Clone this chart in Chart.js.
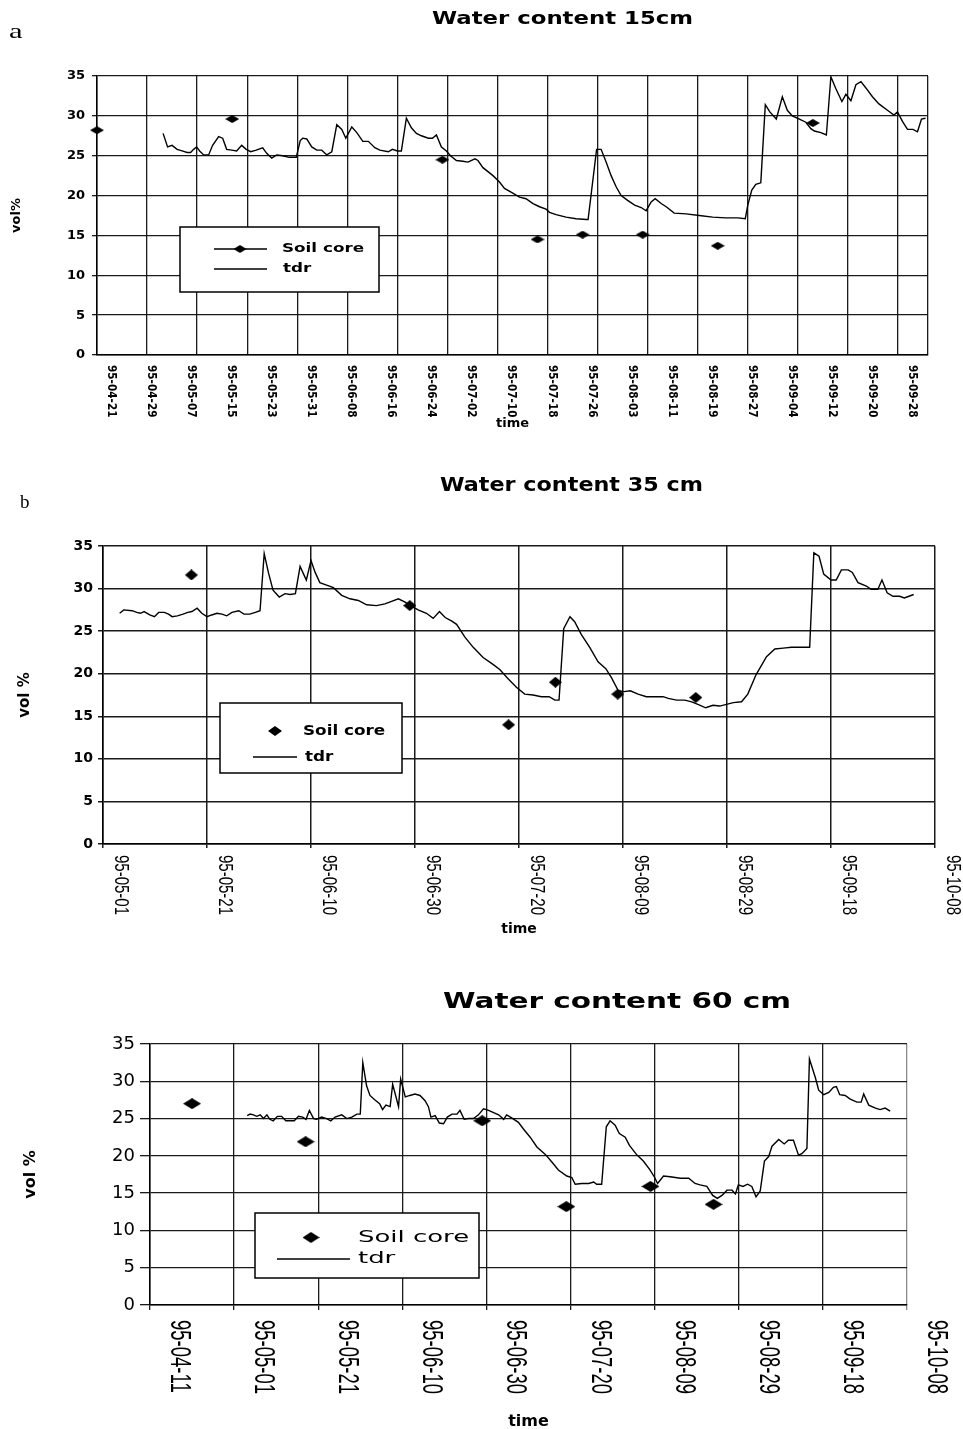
<!DOCTYPE html>
<html>
<head>
<meta charset="utf-8">
<script src="https://cdn.jsdelivr.net/npm/chart.js@4.4.1/dist/chart.umd.min.js"></script>
<style>
  html, body { margin: 0; padding: 0; background: #fff; }
  body { width: 963px; height: 1429px; position: relative; overflow: hidden; }
  canvas { position: absolute; left: 0; }
  .txt { position: absolute; white-space: nowrap; color: #000; line-height: 1; transform-origin: 0 50%; }
  .title { font-family: "DejaVu Sans", sans-serif; font-weight: bold; }
  .tag { font-family: "Liberation Serif", serif; }
</style>
</head>
<body>
<canvas id="chartA" width="963" height="440" style="top:0px"></canvas>
<canvas id="chartB" width="963" height="480" style="top:460px"></canvas>
<canvas id="chartC" width="963" height="449" style="top:980px"></canvas>

<div class="txt tag" id="tagA">a</div>
<div class="txt tag" id="tagB">b</div>
<div class="txt title" id="titleA">Water content 15cm</div>
<div class="txt title" id="titleB">Water content 35 cm</div>
<div class="txt title" id="titleC">Water content 60 cm</div>

<script>
// x values are days of year 1995 (Jan 1 = 1), y values are vol%

// panel a, 15 cm
const aTickLabels = ['95-04-21', '95-04-29', '95-05-07', '95-05-15', '95-05-23', '95-05-31', '95-06-08',
  '95-06-16', '95-06-24', '95-07-02', '95-07-10', '95-07-18', '95-07-26', '95-08-03', '95-08-11',
  '95-08-19', '95-08-27', '95-09-04', '95-09-12', '95-09-20', '95-09-28'];
const aCoreDay = [111, 138, 180, 199, 208, 220, 235, 254];
const aCoreVol = [28.2, 29.6, 24.5, 14.5, 15.1, 15.1, 13.7, 29.1];
const aTdrDay = [124.2, 125.1, 126.0, 127.0, 128.0, 129.0, 129.7, 130.3, 130.9, 131.5, 132.3, 133.3, 134.1,
  135.3, 136.1, 136.9, 137.9, 138.9, 139.9, 140.8, 141.7, 142.8, 144.1, 144.9, 145.9, 146.9, 148.1, 149.4,
  150.8, 151.6, 152.1, 152.9, 153.9, 154.9, 155.9, 156.9, 157.9, 158.9, 159.9, 160.7, 161.9, 162.9, 164.1,
  165.2, 166.5, 167.5, 169.2, 170.0, 171.0, 171.8, 172.8, 173.8, 174.8, 175.8, 177.2, 178.0, 178.8, 179.8,
  180.8, 181.6, 182.8, 184.1, 185.1, 186.5, 187.1, 188.1, 190.1, 191.4, 192.4, 193.8, 195.4, 196.7, 198.1,
  199.4, 200.7, 201.4, 202.7, 204.7, 206.7, 208.8, 209.1, 210.8, 211.7, 212.7, 213.7, 214.7, 215.7, 217.0,
  218.4, 219.7, 220.7, 221.7, 222.5, 223.7, 224.7, 226.3, 228.7, 231.3, 234.0, 236.6, 239.0, 240.5, 241.0,
  241.8, 242.6, 243.6, 244.5, 245.4, 246.7, 247.9, 248.9, 249.9, 251.3, 252.6, 253.6, 254.3, 255.6, 256.7,
  257.6, 258.6, 259.8, 260.6, 261.6, 262.6, 263.6, 264.6, 265.9, 267.2, 268.9, 270.2, 270.9, 271.9, 272.9,
  274.0, 274.9, 275.7, 276.5];
const aTdrVol = [27.8, 26.1, 26.3, 25.8, 25.6, 25.4, 25.4, 25.8, 26.1, 25.6, 25.1, 25.1, 26.3,
  27.4, 27.2, 25.8, 25.7, 25.6, 26.3, 25.8, 25.5, 25.7, 26.0, 25.3, 24.7, 25.1, 25.0, 24.8,
  24.8, 26.9, 27.2, 27.1, 26.1, 25.7, 25.7, 25.1, 25.5, 28.9, 28.3, 27.2, 28.6, 27.9, 26.8,
  26.8, 26.0, 25.7, 25.5, 25.8, 25.6, 25.6, 29.7, 28.5, 27.8, 27.5, 27.2, 27.2, 27.6, 26.1,
  25.6, 25.0, 24.4, 24.3, 24.2, 24.6, 24.4, 23.5, 22.5, 21.7, 20.9, 20.4, 19.8, 19.6, 19.0,
  18.6, 18.3, 17.9, 17.6, 17.3, 17.1, 17.0, 17.0, 25.8, 25.8, 24.2, 22.5, 21.1, 20.0, 19.4,
  18.8, 18.5, 18.1, 19.2, 19.6, 19.0, 18.6, 17.8, 17.7, 17.5, 17.3, 17.2, 17.2, 17.1, 18.8,
  20.7, 21.4, 21.6, 31.4, 30.5, 29.6, 32.4, 30.7, 30.0, 29.6, 29.2, 28.4, 28.1, 27.9, 27.6,
  34.9, 33.4, 31.8, 32.7, 31.9, 33.9, 34.3, 33.5, 32.4, 31.5, 30.7, 30.1, 30.5, 29.3, 28.3,
  28.3, 28.0, 29.6, 29.7];

// panel b, 35 cm
const bTickLabels = ['95-05-01', '95-05-21', '95-06-10', '95-06-30', '95-07-20', '95-08-09', '95-08-29',
  '95-09-18', '95-10-08'];
const bCoreDay = [138, 180, 199, 208, 220, 235];
const bCoreVol = [31.6, 28.0, 14.0, 19.0, 17.6, 17.2];
const bTdrDay = [124.2, 125.0, 126.6, 127.5, 128.2, 128.9, 130.0, 130.9, 131.7, 132.8, 133.6, 134.3, 135.3,
  136.4, 137.3, 138.1, 139.1, 140.0, 141.0, 141.9, 142.9, 143.9, 144.8, 145.8, 147.1, 148.1, 149.2, 150.3,
  151.2, 152.0, 152.8, 153.7, 154.9, 156.0, 157.0, 158.0, 158.9, 160.1, 161.0, 161.8, 162.7, 164.0, 165.3,
  166.9, 168.5, 170.1, 171.7, 173.6, 175.2, 176.5, 177.8, 179.1, 180.4, 181.6, 183.2, 184.5, 185.7, 186.8,
  188.0, 189.0, 190.6, 192.2, 194.1, 196.0, 197.3, 198.9, 200.5, 202.1, 203.7, 205.3, 206.8, 207.9, 208.7,
  209.6, 210.8, 211.7, 213.0, 214.6, 216.2, 217.7, 218.8, 220.1, 221.2, 222.4, 223.9, 225.5, 227.1, 228.7,
  229.7, 231.3, 232.9, 234.2, 235.4, 236.9, 238.3, 239.6, 240.9, 242.2, 243.8, 245.0, 246.6, 248.6, 250.2,
  251.8, 253.4, 255.0, 256.9, 257.7, 258.7, 259.6, 261.0, 262.0, 263.0, 264.3, 265.1, 266.2, 267.8, 268.7,
  270.0, 270.8, 271.8, 272.9, 274.2, 275.1, 276.0, 276.9];
const bTdrVol = [27.1, 27.5, 27.4, 27.2, 27.1, 27.3, 26.9, 26.7, 27.2, 27.2, 27.0, 26.7, 26.8,
  27.0, 27.2, 27.3, 27.7, 27.1, 26.7, 26.9, 27.1, 27.0, 26.8, 27.2, 27.4, 27.0, 27.0, 27.2,
  27.4, 34.1, 31.9, 29.8, 29.0, 29.4, 29.3, 29.4, 32.6, 31.0, 33.3, 31.9, 30.7, 30.4, 30.1,
  29.2, 28.8, 28.6, 28.1, 28.0, 28.2, 28.5, 28.8, 28.4, 27.9, 27.5, 27.1, 26.5, 27.3, 26.6,
  26.2, 25.8, 24.3, 23.1, 21.9, 21.1, 20.5, 19.4, 18.4, 17.6, 17.5, 17.3, 17.3, 16.9, 16.9,
  25.3, 26.7, 26.1, 24.6, 23.1, 21.4, 20.6, 19.5, 18.0, 17.9, 18.0, 17.6, 17.3, 17.3, 17.3,
  17.1, 16.9, 16.9, 16.7, 16.4, 16.0, 16.3, 16.2, 16.4, 16.6, 16.7, 17.6, 19.9, 22.0, 22.9,
  23.0, 23.1, 23.1, 23.1, 34.2, 33.8, 31.7, 31.0, 31.0, 32.2, 32.2, 31.9, 30.7, 30.3, 29.9,
  29.9, 31.0, 29.5, 29.1, 29.1, 28.9, 29.1, 29.3];

// panel c, 60 cm
const cTickLabels = ['95-04-11', '95-05-01', '95-05-21', '95-06-10', '95-06-30', '95-07-20', '95-08-09',
  '95-08-29', '95-09-18', '95-10-08'];
const cCoreDay = [111, 138, 180, 200, 220, 235];
const cCoreVol = [27.0, 21.9, 24.7, 13.2, 15.9, 13.5];
const cTdrDay = [124.1, 124.8, 125.6, 126.4, 127.2, 128.0, 128.8, 129.5, 130.3, 131.3, 132.3, 133.3, 135.3,
  136.3, 137.3, 138.1, 138.9, 139.9, 140.6, 141.8, 143.0, 144.0, 145.0, 146.6, 147.8, 149.0, 150.2, 151.0,
  151.6, 152.5, 153.3, 154.5, 155.6, 156.3, 157.1, 158.1, 158.7, 159.5, 160.1, 160.6, 161.7, 162.8, 164.0,
  165.2, 166.4, 167.2, 167.8, 168.8, 169.8, 170.8, 171.7, 172.8, 174.0, 174.7, 175.7, 176.7, 177.9, 179.1,
  180.3, 181.5, 182.7, 183.9, 185.1, 185.8, 187.0, 188.6, 189.8, 191.4, 193.0, 195.0, 196.5, 198.1, 200.1,
  201.3, 202.1, 203.7, 205.3, 206.5, 207.2, 208.4, 209.5, 210.4, 211.6, 212.6, 214.0, 215.0, 216.8, 218.3,
  219.8, 220.9, 221.7, 223.1, 224.7, 227.1, 229.1, 230.6, 231.8, 233.4, 234.8, 235.9, 237.0, 238.2, 239.4,
  240.2, 240.9, 242.0, 243.1, 244.1, 245.1, 246.1, 247.1, 248.1, 248.9, 250.5, 251.8, 252.8, 254.0, 255.2,
  256.0, 257.2, 257.8, 259.2, 260.0, 261.2, 262.4, 263.5, 264.2, 265.0, 266.3, 267.5, 269.1, 270.1, 270.7,
  271.9, 273.5, 274.6, 275.8, 277.0];
const cTdrVol = [25.4, 25.6, 25.5, 25.3, 25.5, 25.0, 25.5, 24.9, 24.7, 25.3, 25.3, 24.7, 24.7,
  25.3, 25.2, 24.9, 26.1, 25.0, 24.9, 25.2, 25.0, 24.7, 25.2, 25.5, 25.0, 25.2, 25.6, 25.6,
  32.5, 29.4, 28.1, 27.5, 27.0, 26.2, 26.8, 26.6, 29.6, 27.9, 26.6, 30.3, 27.9, 28.1, 28.3,
  28.1, 27.4, 26.6, 25.2, 25.4, 24.4, 24.3, 25.2, 25.6, 25.6, 26.1, 24.9, 25.0, 25.0, 25.5,
  26.3, 26.1, 25.8, 25.5, 24.9, 25.5, 25.1, 24.5, 23.6, 22.5, 21.2, 20.2, 19.2, 18.1, 17.3,
  17.1, 16.2, 16.3, 16.3, 16.5, 16.2, 16.2, 23.9, 24.7, 24.1, 23.0, 22.5, 21.4, 20.1, 19.3,
  18.2, 17.2, 16.3, 17.3, 17.2, 17.0, 17.0, 16.3, 16.1, 15.9, 14.7, 14.3, 14.7, 15.4, 15.4,
  14.9, 16.1, 15.9, 16.2, 15.9, 14.5, 15.3, 19.3, 19.9, 21.3, 22.2, 21.6, 22.1, 22.1, 20.1,
  20.3, 21.0, 33.0, 30.5, 28.8, 28.2, 28.5, 29.2, 29.3, 28.2, 28.1, 27.6, 27.2, 27.2, 28.3,
  26.8, 26.4, 26.2, 26.4, 26.0];

const monthStart = [0, 31, 59, 90, 120, 151, 181, 212, 243, 273, 304, 334];
function dayOf(label) {
  const parts = label.split('-').map(Number);
  return monthStart[parts[1] - 1] + parts[2];
}
const pts = (xs, ys) => xs.map((x, i) => ({ x: x, y: ys[i] }));

// wide black diamond used as the soil core marker
function diamond(w, h) {
  const c = document.createElement('canvas');
  c.width = w; c.height = h;
  const g = c.getContext('2d');
  g.fillStyle = '#000';
  g.beginPath();
  g.moveTo(w / 2, 0); g.lineTo(w, h / 2); g.lineTo(w / 2, h); g.lineTo(0, h / 2);
  g.closePath();
  g.fill();
  return c;
}

// date labels, rotated to read downward like the original
const xLabelPlugin = {
  id: 'xLabels',
  afterDraw(chart, args, o) {
    const ctx = chart.ctx;
    const x = chart.scales.x;
    ctx.save();
    ctx.fillStyle = '#000';
    ctx.font = o.font;
    ctx.textAlign = 'left';
    ctx.textBaseline = 'middle';
    o.labels.forEach(lbl => {
      ctx.save();
      ctx.translate(x.getPixelForValue(dayOf(lbl)) + o.offset, chart.chartArea.bottom + o.gap);
      ctx.rotate(Math.PI / 2);
      ctx.scale(1, o.stretch);
      ctx.fillText(lbl, 0, 0);
      ctx.restore();
    });
    ctx.restore();
  }
};

// boxed legend sitting inside the plot
const boxLegendPlugin = {
  id: 'boxLegend',
  afterDatasetsDraw(chart, args, o) {
    const ctx = chart.ctx;
    const sets = chart.data.datasets;
    ctx.save();
    ctx.fillStyle = '#fff';
    ctx.fillRect(o.x, o.y, o.w, o.h);
    ctx.strokeStyle = '#000';
    ctx.lineWidth = 1.5;
    ctx.strokeRect(o.x, o.y, o.w, o.h);
    ctx.lineWidth = 1.4;
    if (o.coreLine) {
      ctx.beginPath(); ctx.moveTo(o.lineX0, o.row1); ctx.lineTo(o.lineX1, o.row1); ctx.stroke();
    }
    const m = diamond(o.mark[0], o.mark[1]);
    ctx.drawImage(m, o.markX - m.width / 2, o.row1 - m.height / 2);
    ctx.beginPath(); ctx.moveTo(o.lineX0, o.row2); ctx.lineTo(o.lineX1, o.row2); ctx.stroke();
    ctx.fillStyle = '#000';
    ctx.font = o.font;
    ctx.textAlign = 'left';
    ctx.textBaseline = 'middle';
    [[sets[0].label, o.textX, o.row1], [sets[1].label, o.textX2, o.row2]].forEach(t => {
      ctx.save();
      ctx.translate(t[1], t[2]);
      ctx.scale(o.stretch, 1);
      ctx.fillText(t[0], 0, 0);
      ctx.restore();
    });
    ctx.restore();
  }
};

function panel(id, p) {
  const grid = [];
  for (let d = p.xMin; d <= p.xMax; d += p.gridStep) grid.push(d);
  if (grid[grid.length - 1] !== p.xMax) grid.push(p.xMax);
  const canvas = document.getElementById(id);
  return new Chart(canvas, {
    type: 'line',
    data: {
      datasets: [
        { label: 'Soil core', data: pts(p.coreDay, p.coreVol), showLine: false,
          pointStyle: diamond(p.mark[0], p.mark[1]), pointRadius: 5, clip: false },
        { label: 'tdr', data: pts(p.tdrDay, p.tdrVol), borderColor: '#000', borderWidth: 1.4,
          pointRadius: 0, fill: false, tension: 0 }
      ]
    },
    options: {
      responsive: false,
      animation: false,
      devicePixelRatio: 1,
      events: [],
      layout: { padding: { top: p.area.top, right: canvas.width - p.area.right, left: 0, bottom: 0 } },
      scales: {
        x: {
          type: 'linear', min: p.xMin, max: p.xMax,
          afterBuildTicks: s => { s.ticks = grid.map(v => ({ value: v })); },
          afterFit: s => { s.height = canvas.height - p.area.bottom; },
          ticks: { display: false },
          grid: {
            color: c => (p.dotRight && c.tick && c.tick.value === p.xMax) ? '#8a8a8a' : '#1a1a1a',
            lineWidth: p.gridWidth, drawTicks: p.xTick > 0, tickLength: p.xTick
          },
          border: { color: '#000', width: 1.5 },
          title: { display: true, text: 'time', color: '#000', font: p.xTitleFont,
            padding: { top: 0, bottom: p.xTitlePad } }
        },
        y: {
          min: 0, max: 35,
          afterFit: s => { s.width = p.area.left; },
          ticks: { stepSize: 5, color: '#000', font: p.yFont, padding: p.yPad },
          grid: { color: '#1a1a1a', lineWidth: p.gridWidth, tickLength: p.yTick },
          border: { color: '#000', width: 1.5 },
          title: { display: true, text: p.yTitle, color: '#000', font: p.yTitleFont,
            padding: { top: p.yTitlePad, bottom: 0 } }
        }
      },
      plugins: {
        legend: { display: false },
        tooltip: { enabled: false },
        xLabels: p.xLabels,
        boxLegend: p.legend
      }
    },
    plugins: [xLabelPlugin, boxLegendPlugin]
  });
}

panel('chartA', {
  area: { left: 97, top: 76, right: 928, bottom: 355 },
  xMin: 111, xMax: 277, gridStep: 10,
  coreDay: aCoreDay, coreVol: aCoreVol, tdrDay: aTdrDay, tdrVol: aTdrVol,
  mark: [14, 8], gridWidth: 1.3, xTick: 0, yTick: 5,
  yFont: { family: 'DejaVu Sans', size: 13, weight: 'bold' }, yPad: 7,
  yTitle: 'vol%', yTitleFont: { family: 'DejaVu Sans', size: 13, weight: 'bold' }, yTitlePad: 9.2,
  xTitleFont: { family: 'DejaVu Sans', size: 13, weight: 'bold' }, xTitlePad: 8.2,
  xLabels: { labels: aTickLabels, font: 'bold 10.5px "DejaVu Sans"', stretch: 1.1, offset: 14, gap: 10 },
  legend: { x: 180, y: 227, w: 199, h: 65, row1: 249, row2: 269, markX: 240, mark: [13, 8],
    lineX0: 214, lineX1: 267, coreLine: true, textX: 282, textX2: 283,
    font: 'bold 13px "DejaVu Sans"', stretch: 1.29 }
});

panel('chartB', {
  area: { left: 103, top: 86, right: 935, bottom: 384 },
  xMin: 121, xMax: 281, gridStep: 20,
  coreDay: bCoreDay, coreVol: bCoreVol, tdrDay: bTdrDay, tdrVol: bTdrVol,
  mark: [13, 11], gridWidth: 1.5, xTick: 4, yTick: 5,
  yFont: { family: 'DejaVu Sans', size: 14, weight: 'bold' }, yPad: 5,
  yTitle: 'vol %', yTitleFont: { family: 'DejaVu Sans', size: 15, weight: 'bold' }, yTitlePad: 16,
  xTitleFont: { family: 'DejaVu Sans', size: 14, weight: 'bold' }, xTitlePad: 2.6,
  xLabels: { labels: bTickLabels, font: '15px "Liberation Sans"', stretch: 1.35, offset: 18, gap: 11 },
  legend: { x: 220, y: 243, w: 182, h: 70, row1: 271, row2: 297, markX: 275, mark: [14, 10],
    lineX0: 253, lineX1: 297, coreLine: false, textX: 303, textX2: 305,
    font: 'bold 14px "DejaVu Sans"', stretch: 1.2 }
});

panel('chartC', {
  area: { left: 150, top: 64, right: 907, bottom: 325 },
  xMin: 101, xMax: 281, gridStep: 20, dotRight: true,
  coreDay: cCoreDay, coreVol: cCoreVol, tdrDay: cTdrDay, tdrVol: cTdrVol,
  mark: [18, 11], gridWidth: 1.3, xTick: 5, yTick: 10,
  yFont: { family: 'DejaVu Sans', size: 18 }, yPad: 5,
  yTitle: 'vol %', yTitleFont: { family: 'DejaVu Sans', size: 16, weight: 'bold' }, yTitlePad: 21.4,
  xTitleFont: { family: 'DejaVu Sans', size: 16, weight: 'bold', lineHeight: 0.9 }, xTitlePad: 0,
  xLabels: { labels: cTickLabels, font: '18.5px "Liberation Sans"', stretch: 1.57, offset: 29, gap: 15 },
  legend: { x: 255, y: 233, w: 224, h: 65, row1: 257.5, row2: 279, markX: 311, mark: [17, 11],
    lineX0: 277, lineX1: 350, coreLine: false, textX: 358, textX2: 358,
    font: '16px "DejaVu Sans"', stretch: 1.62 }
});

// headings: placed by left edge / vertical centre, stretched to the scanned width
function place(id, size, left, centerY, width) {
  const el = document.getElementById(id);
  el.style.fontSize = size + 'px';
  el.style.left = left + 'px';
  el.style.top = (centerY - size / 2) + 'px';
  const w = el.getBoundingClientRect().width;
  el.style.transform = 'scaleX(' + (width / w) + ')';
}
place('titleA', 17, 432, 18, 261);
place('titleB', 19, 440, 484.5, 263);
place('titleC', 22, 443, 1001, 348);
place('tagA', 21, 9, 31, 13.6);
place('tagB', 18, 20, 502, 9.5);
</script>
</body>
</html>
